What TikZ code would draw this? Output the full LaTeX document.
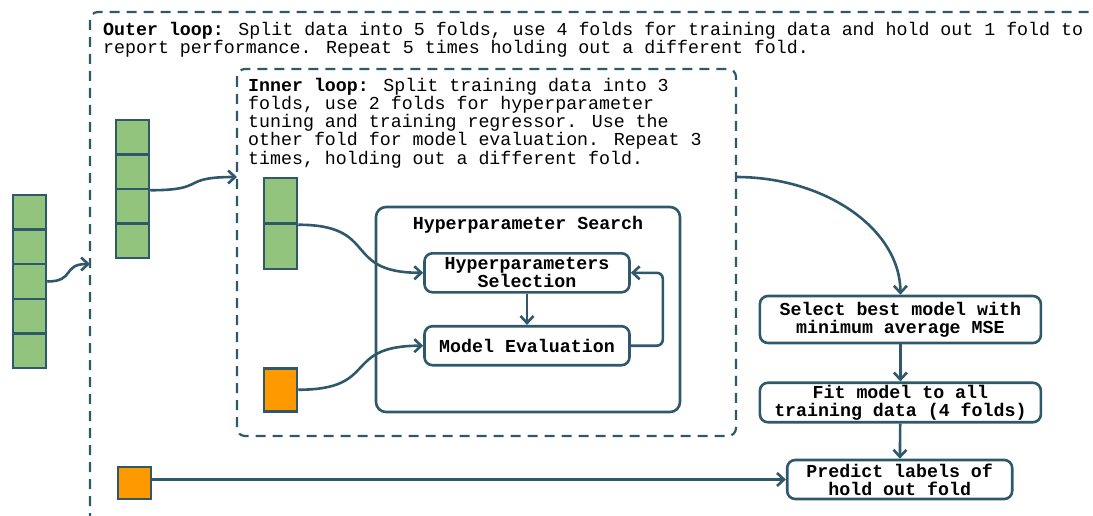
\documentclass[tikz,border=0pt]{standalone}
\usepackage{fontspec}
\setmainfont{Liberation Mono}
\usetikzlibrary{arrows.meta}
\definecolor{inkline}{RGB}{47,89,107}
\definecolor{foldgreen}{RGB}{147,196,125}
\definecolor{foldorange}{RGB}{255,153,0}
\newcommand{\diagfont}{\fontsize{18.28pt}{18.1pt}\selectfont}
\begin{document}
\begin{tikzpicture}[x=1pt,y=-1pt,
  every node/.style={inner sep=0pt},
  fold/.style={draw=inkline, line width=2.5pt, minimum width=33pt, inner sep=0pt},
  greenfold/.style={fold, fill=foldgreen},
  orangefold/.style={fold, fill=foldorange},
  stepbox/.style={draw=inkline, line width=2.6pt, rounded corners=8pt, fill=white,
    font=\diagfont\bfseries, align=center},
  flow/.style={draw=inkline, line width=2.6pt,
    -{Straight Barb[length=7pt,width=13pt]}},
  loopframe/.style={draw=inkline, line width=2.2pt, dash pattern=on 10pt off 7pt,
    rounded corners=8pt},
  plaintext/.style={font=\diagfont, anchor=base west},
]
\useasboundingbox (0,0) rectangle (1093,516);
\clip (0,0) rectangle (1093,516);

% outer and inner cross-validation loops
\draw[loopframe] (90,540) -- (90,12) -- (1120,12);
\draw[loopframe] (237,69) rectangle (736,436);
\coordinate (outerin) at (90,264);
\coordinate (innerin) at (237,177);
\coordinate (innerout) at (736,177);

\node[plaintext] (outer1) at (103,35.1) {\textbf{Outer loop:} Split data into 5 folds, use 4 folds for training data and hold out 1 fold to};
\node[plaintext] (outer2) at (103,53.2) {report performance. Repeat 5 times holding out a different fold.};

\node[plaintext] (inner1) at (248,91.7) {\textbf{Inner loop:} Split training data into 3};
\node[plaintext] (inner2) at (248,109.8) {folds, use 2 folds for hyperparameter};
\node[plaintext] (inner3) at (248,127.9) {tuning and training regressor. Use the};
\node[plaintext] (inner4) at (248,146.0) {other fold for model evaluation. Repeat 3};
\node[plaintext] (inner5) at (248,164.1) {times, holding out a different fold.};

% data folds
\foreach \i/\y in {1/212.3,2/246.9,3/281.5,4/316.1,5/350.7}
  \node[greenfold, minimum height=34.6pt] (a\i) at (29.5,\y) {};
\foreach \i/\y in {1/137.25,2/171.75,3/206.25,4/240.75}
  \node[greenfold, minimum height=34.5pt] (b\i) at (132.5,\y) {};
\foreach \i/\y in {1/200.75,2/246.25}
  \node[greenfold, minimum height=45.5pt] (c\i) at (280.5,\y) {};
\node[orangefold, minimum height=43pt] (o1) at (280.5,389.75) {};
\node[orangefold, minimum height=32pt] (o2) at (134.5,483) {};

% hyperparameter search
\node[draw=inkline, line width=2.6pt, rounded corners=10pt,
  minimum width=304pt, minimum height=205pt] (hsearch) at (528,309.5) {};
\node[font=\diagfont\bfseries, anchor=base] (hstitle) at (528,229.5) {Hyperparameter Search};
\node[stepbox, minimum width=205pt, minimum height=39pt] (hsel) at (527,272.8)
  {Hyperparameters\\Selection};
\node[stepbox, minimum width=205pt, minimum height=39pt] (meval) at (527,345.7)
  {Model Evaluation};

% final model steps
\node[stepbox, minimum width=281pt, minimum height=47pt] (select) at (900.4,319.5)
  {Select best model with\\minimum average MSE};
\node[stepbox, minimum width=281pt, minimum height=39.5pt] (fit) at (900.4,402.5)
  {Fit model to all\\training data (4 folds)};
\node[stepbox, minimum width=225pt, minimum height=39pt] (predict) at (899.7,479.5)
  {Predict labels of\\hold out fold};

% connectors
\draw[flow] (a3.east) .. controls +(28,0) and +(-28,0) .. (outerin);
\draw[flow] (b2.south east) .. controls +(58,0) and +(-58,0) .. (innerin);
\draw[flow] (c1.south east) .. controls +(82,0) and +(-82,0) .. (hsel.west);
\draw[flow] (o1.east) .. controls +(82,0) and +(-82,0) .. (meval.west);
\draw[flow] (hsel) -- (meval);
\draw[flow, rounded corners=6pt] (meval.east) -- ++(32,0) |- (hsel.east);
\draw[flow] (innerout) .. controls +(90,0) and +(0,-65) .. (select.north);
\draw[flow] (select) -- (fit);
\draw[flow] (fit) -- (predict);
\draw[flow] (predict.west -| o2.east) -- (predict.west);
\end{tikzpicture}
\end{document}
